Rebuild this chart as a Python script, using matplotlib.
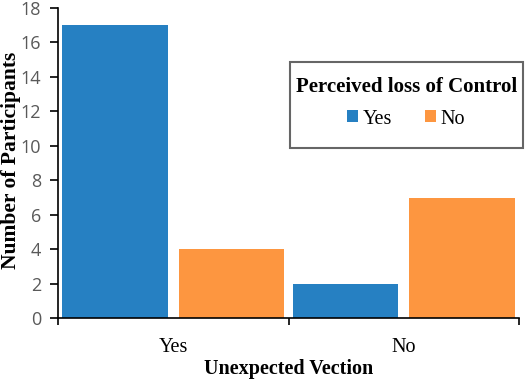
import matplotlib.pyplot as plt
from matplotlib.offsetbox import DrawingArea
import numpy as np

# data
categories = ['Yes', 'No']          # Unexpected Vection
loss_yes = [17, 2]                  # Perceived loss of control: Yes
loss_no = [4, 7]                    # Perceived loss of control: No
y_ticks = [0, 2, 4, 6, 8, 10, 12, 14, 16, 18]

blue = '#2680c2'
orange = '#fd9640'
serif = 'Liberation Serif'

fig = plt.figure(figsize=(5.26, 3.81), dpi=100)
ax = fig.add_axes([0.110, 0.165, 0.877, 0.814])

x = np.arange(len(categories))
w = 0.456
off = 0.252
ax.bar(x - off, loss_yes, w, color=blue, label='Yes')
ax.bar(x + off, loss_no, w, color=orange, label='No')

ax.set_xlim(-0.5, len(categories) - 0.5)
ax.set_ylim(0, 18)
ax.set_yticks(y_ticks)
ax.set_yticklabels([str(v) for v in y_ticks], fontfamily='Open Sans', fontsize=13, color='#595959')

# category labels without ticks, ticks at category boundaries
ax.set_xticks(x)
ax.set_xticklabels(categories, fontfamily=serif, fontsize=14.5)
ax.tick_params(axis='x', which='major', length=0, pad=14)
ax.set_xticks([-0.5, 0.5, 1.5], minor=True)
ax.tick_params(axis='x', which='minor', length=5, width=1.2, color='black', direction='out')
ax.tick_params(axis='y', length=6, width=1.2, direction='out', pad=6)

for s in ['top', 'right']:
    ax.spines[s].set_visible(False)
for s in ['left', 'bottom']:
    ax.spines[s].set_linewidth(1.2)
    ax.spines[s].set_color('black')

ax.set_xlabel('Unexpected Vection', fontfamily=serif, fontsize=14.5,
              fontweight='bold', labelpad=2)
ax.set_ylabel('Number of Participants', fontfamily=serif, fontsize=15.5,
              fontweight='bold')
ax.yaxis.set_label_coords(-0.08, 0.508)

leg = ax.legend(title='Perceived loss of Control', ncol=2, loc='upper right',
                bbox_to_anchor=(1.008, 0.826), borderaxespad=0,
                frameon=True, fancybox=False,
                prop={'family': serif, 'size': 14.5},
                handlelength=0.55, handleheight=0.55, handletextpad=0.25,
                columnspacing=1.6, borderpad=0.3, labelspacing=0.6)
leg.get_title().set_fontfamily(serif)
leg.get_title().set_fontweight('bold')
leg.get_title().set_fontsize(15)
# vertical spacing inside the legend box: top, between title and entries, bottom
leg._legend_box.sep = 0
kids = leg._legend_box.get_children()
kids.insert(0, DrawingArea(1, 6.5))
kids.insert(2, DrawingArea(1, 9))
kids.append(DrawingArea(1, 9.5))
leg.get_frame().set_edgecolor('#404040')
leg.get_frame().set_linewidth(1.5)

fig.savefig('out.png', dpi=100)
